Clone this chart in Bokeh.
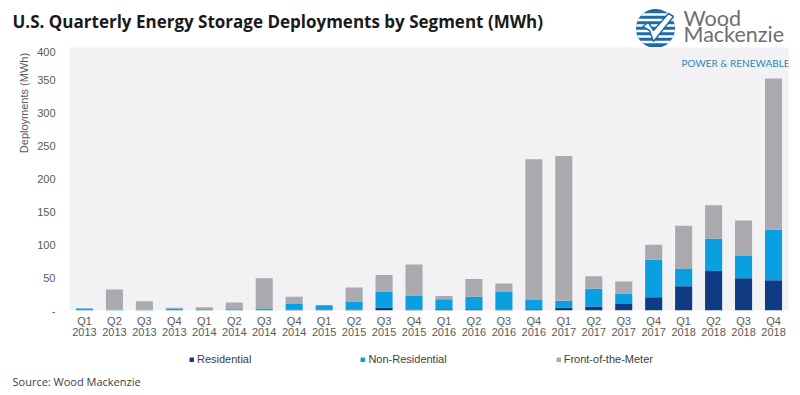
import numpy as np
from bokeh.plotting import figure
from bokeh.layouts import column, row
from bokeh.models import (FactorRange, Range1d, Legend, LegendItem, Label,
                          CustomJSTickFormatter, FixedTicker, CategoricalAxis)
from bokeh.embed import file_html
from bokeh.resources import INLINE

# ---- data (MWh) ----
quarters = ["Q1", "Q2", "Q3", "Q4"] * 6
years = [str(y) for y in range(2013, 2019) for _ in range(4)]
residential = [0, 0, 0, 0, 0, 0, 0, 1,
               1, 1, 4, 1, 2, 2, 1, 2,
               4, 6, 10, 20, 37, 60, 49, 46]
non_residential = [3, 1, 1, 3, 2, 2, 3, 9,
                   7, 12, 25, 22, 15, 19, 27, 14,
                   11, 27, 15, 57, 27, 49, 34, 77]
front_of_meter = [0, 31, 13, 1, 3, 10, 46, 11,
                  0, 22, 25, 47, 5, 27, 13, 214,
                  220, 19, 19, 23, 65, 51, 54, 230]
segments = ["Residential", "Non-Residential", "Front-of-the-Meter"]
colors = ["#103a82", "#0a9fe0", "#a9a9ae"]
y_ticks = [0, 50, 100, 150, 200, 250, 300, 350, 400]

factors = [f"{q} {y}" for q, y in zip(quarters, years)]
source = dict(x=factors, Residential=residential,
              **{"Non-Residential": non_residential,
                 "Front-of-the-Meter": front_of_meter})

def blank(w, h, x0, x1, y0, y1):
    f = figure(width=w, height=h, x_range=Range1d(x0, x1), y_range=Range1d(y0, y1),
               output_backend="svg", toolbar_location=None,
               x_axis_location=None, y_axis_location=None,
               min_border=0, min_border_left=0, min_border_right=0,
               min_border_top=0, min_border_bottom=0)
    f.outline_line_color = None
    f.grid.visible = False
    f.background_fill_color = "white"
    f.border_fill_color = "white"
    return f

# ---------------- header ----------------
head = blank(800, 47, 0, 800, 47, 0)
head.text(x=[12], y=[20.5], text=["U.S. Quarterly Energy Storage Deployments by Segment (MWh)"],
          text_font={"value": "Open Sans"}, text_font_style="bold", text_font_size="17px",
          text_color="#1a1a1a", text_baseline="middle")
# logo emblem
cx, cy, r = 655, 28, 19.5
t = np.linspace(0, 2 * np.pi, 80)
head.patch(x=list(cx + r * np.cos(t)), y=list(cy + r * np.sin(t)),
           fill_color="#1f6aa8", line_color=None)
sx, sy = [], []
for dy in [-14, -8.5, -3, 2.5, 8, 13.5]:
    y0, y1 = dy - 1.3, dy + 1.3
    w0 = np.sqrt(max(r * r - y0 * y0, 0)); w1 = np.sqrt(max(r * r - y1 * y1, 0))
    sx.append([cx - w0, cx + w0, cx + w1, cx - w1])
    sy.append([cy + y0, cy + y0, cy + y1, cy + y1])
head.patches(xs=sx, ys=sy, fill_color="white", line_color=None)
head.patch(x=[cx - 13, cx - 7, cx - 2, cx + 13, cx + 18, cx - 2, cx - 6],
           y=[cy - 2, cy - 6, cy + 2, cy - 15, cy - 12, cy + 13, cy + 2],
           fill_color="white", line_color="#1f6aa8", line_width=1.5)
head.text(x=[683, 683], y=[30, 46.5], text=["Wood", "Mackenzie"],
          text_font={"value": "Lato"}, text_font_size="21.5px", text_color="#6b6e73",
          text_baseline="bottom")

# ---------------- left (axis title) ----------------
left = blank(32, 303, 0, 32, 350, 47)
left.text(x=[23], y=[111], text=["Deployments (MWh)"], angle=np.pi / 2,
          text_font={"value": "Liberation Sans"}, text_font_size="11px",
          text_color="#595959", text_align="center", text_baseline="middle")

# ---------------- main chart ----------------
p = figure(width=768, height=303, x_range=FactorRange(*factors, range_padding=0),
           y_range=Range1d(0, 400), output_backend="svg", toolbar_location=None,
           min_border_left=37, min_border_right=12, min_border_top=0,
           min_border_bottom=40)
p.background_fill_color = "#f2f2f4"
p.border_fill_color = "white"
p.outline_line_color = None
p.xgrid.grid_line_color = None
p.ygrid.grid_line_color = None

renderers = p.vbar_stack(segments, x="x", width=0.57, color=colors,
                         line_color=None, source=source)

year_axis = CategoricalAxis()
p.add_layout(year_axis, "below")

p.yaxis.ticker = FixedTicker(ticks=y_ticks)
p.yaxis.formatter = CustomJSTickFormatter(code="return tick == 0 ? '-' : tick.toString()")
for ax in (p.xaxis[0], year_axis, p.yaxis[0]):
    ax.axis_line_color = None
    ax.major_tick_line_color = None
    ax.minor_tick_line_color = None
    ax.major_tick_out = 0
    ax.major_tick_in = 0
    ax.major_label_text_font = "Liberation Sans"
    ax.major_label_text_font_size = "11px"
    ax.major_label_text_color = "#595959"
p.yaxis.major_label_standoff = 14
p.xaxis[0].major_label_standoff = 4
p.xaxis[0].formatter = CustomJSTickFormatter(code="return String(tick).split(' ')[0]")
year_axis.major_label_standoff = -2
year_axis.formatter = CustomJSTickFormatter(code="return String(tick).split(' ')[1]")

p.add_layout(Label(x=612, y=248, x_units="screen", y_units="screen",
                   text="POWER & RENEWABLES", text_font="Lato", text_font_size="10px",
                   text_color="#2b86b8", text_baseline="middle"))

# ---------------- footer (legend + source) ----------------
foot = blank(800, 45, 0, 800, 395, 350)
swatches = [foot.vbar(x=[np.nan], top=[np.nan], width=1, color=c) for c in colors]
legend = Legend(items=[LegendItem(label=s, renderers=[r]) for s, r in zip(segments, swatches)],
                orientation="horizontal", location=(189, 30),
                glyph_width=5, glyph_height=5, label_height=12, label_standoff=3,
                spacing=109, padding=0, margin=0,
                label_text_font="Liberation Sans", label_text_font_size="11px",
                label_text_color="#404040",
                border_line_color=None, background_fill_alpha=0)
foot.add_layout(legend)
foot.text(x=[12], y=[381], text=["Source: Wood Mackenzie"],
          text_font={"value": "Open Sans"}, text_font_size="11px",
          text_color="#404040", text_baseline="middle")

layout = column(head, row(left, p), foot)
open("out.html", "w").write(file_html(layout, INLINE))
